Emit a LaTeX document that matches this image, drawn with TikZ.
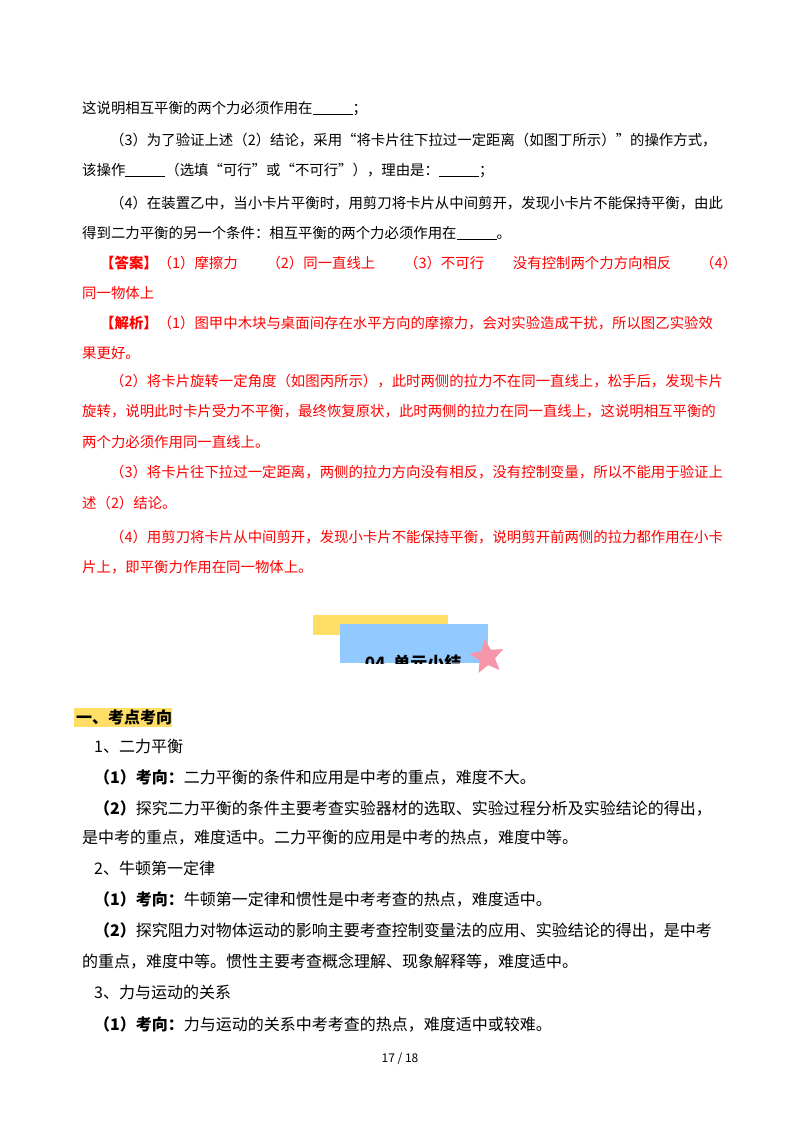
\documentclass[tikz,border=0pt]{standalone}
\usepackage{fontspec}
\setmainfont{Noto Sans CJK SC}
\usetikzlibrary{shapes.geometric}
\newcommand{\blk}{\rule[-2pt]{40pt}{0.9pt}}
\definecolor{ansred}{RGB}{255,0,0}
\definecolor{ban}{RGB}{146,202,255}
\definecolor{yel}{RGB}{255,222,102}
\definecolor{pink}{RGB}{246,150,170}
\begin{document}
\begin{tikzpicture}[x=1pt,y=-1pt,
  ln/.style={anchor=base west,inner sep=0pt,font=\fontsize{14.4}{16}\selectfont},
  lb/.style={anchor=base west,inner sep=0pt,font=\fontsize{16}{18}\selectfont},
  rd/.style={ln,text=ansred}]
\useasboundingbox[fill=white] (0,0) rectangle (800,1132);
\node[ln] (l1) at (82,113) {这说明相互平衡的两个力必须作用在\blk；};
\node[ln] (l2) at (110,145) {（3）为了验证上述（2）结论，采用“将卡片往下拉过一定距离（如图丁所示）”的操作方式，};
\node[ln] (l3) at (82,175) {该操作\blk（选填“可行”或“不可行”），理由是：\blk；};
\node[ln] (l4) at (110,208) {（4）在装置乙中，当小卡片平衡时，用剪刀将卡片从中间剪开，发现小卡片不能保持平衡，由此};
\node[ln] (l5) at (82,238) {得到二力平衡的另一个条件：相互平衡的两个力必须作用在\blk。};
\node[rd] (a1) at (100,268) {\textbf{【答案】}（1）摩擦力\qquad（2）同一直线上\qquad（3）不可行\qquad 没有控制两个力方向相反\qquad（4）};
\node[rd] (a2) at (82,298) {同一物体上};
\node[rd] (b1) at (100,328) {\textbf{【解析】}（1）图甲中木块与桌面间存在水平方向的摩擦力，会对实验造成干扰，所以图乙实验效};
\node[rd] (b2) at (82,358) {果更好。};
\node[rd] (b3) at (110,386) {（2）将卡片旋转一定角度（如图丙所示），此时两侧的拉力不在同一直线上，松手后，发现卡片};
\node[rd] (b4) at (82,416) {旋转，说明此时卡片受力不平衡，最终恢复原状，此时两侧的拉力在同一直线上，这说明相互平衡的};
\node[rd] (b5) at (82,447) {两个力必须作用同一直线上。};
\node[rd] (b6) at (110,477) {（3）将卡片往下拉过一定距离，两侧的拉力方向没有相反，没有控制变量，所以不能用于验证上};
\node[rd] (b7) at (82,508) {述（2）结论。};
\node[rd] (b8) at (110,542) {（4）用剪刀将卡片从中间剪开，发现小卡片不能保持平衡，说明剪开前两侧的拉力都作用在小卡};
\node[rd] (b9) at (82,572) {片上，即平衡力作用在同一物体上。};
% banner
\fill[yel] (313,615) rectangle (448,635);
\fill[ban] (340,624) rectangle (488,663);
\begin{scope}
\clip (340,624) rectangle (488,663);
\node[font=\fontsize{17}{18}\selectfont\bfseries,anchor=base] (bt) at (413,669) {04\ \ 单元小结};
\end{scope}
\node[star,star points=5,star point ratio=2.2,fill=pink,minimum size=36pt,inner sep=0pt,rotate=8] (st) at (487,657) {};
% section
\fill[yel] (74,708) rectangle (172,727);
\node[lb,font=\fontsize{16}{18}\selectfont\bfseries] (h1) at (76,723) {一、考点考向};
\node[lb] (c1) at (94,752) {1、二力平衡};
\node[lb] (c2) at (94,783) {\textbf{（1）考向：}二力平衡的条件和应用是中考的重点，难度不大。};
\node[lb] (c3) at (94,814) {\textbf{（2）}探究二力平衡的条件主要考查实验器材的选取、实验过程分析及实验结论的得出，};
\node[lb] (c4) at (82,843) {是中考的重点，难度适中。二力平衡的应用是中考的热点，难度中等。};
\node[lb] (c5) at (94,874) {2、牛顿第一定律};
\node[lb] (c6) at (94,905) {\textbf{（1）考向：}牛顿第一定律和惯性是中考考查的热点，难度适中。};
\node[lb] (c7) at (94,936) {\textbf{（2）}探究阻力对物体运动的影响主要考查控制变量法的应用、实验结论的得出，是中考};
\node[lb] (c8) at (82,967) {的重点，难度中等。惯性主要考查概念理解、现象解释等，难度适中。};
\node[lb] (c9) at (94,998) {3、力与运动的关系};
\node[lb] (c10) at (94,1030) {\textbf{（1）考向：}力与运动的关系中考考查的热点，难度适中或较难。};
\node[anchor=base,inner sep=0pt,font=\fontsize{12}{13}\selectfont] (pg) at (400,1062) {17 / 18};
\end{tikzpicture}
\end{document}
